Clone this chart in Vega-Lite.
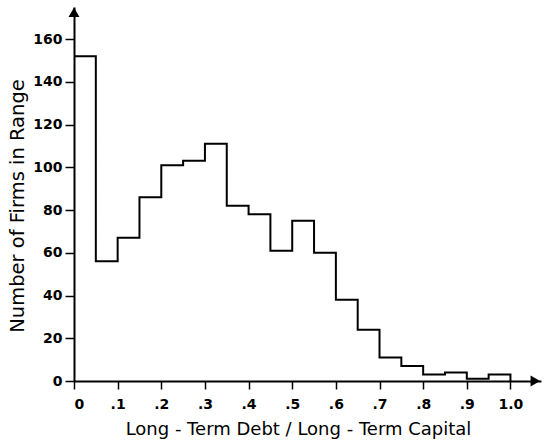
{
  "$schema": "https://vega.github.io/schema/vega-lite/v6.json",
  "autosize": "none",
  "width": 467,
  "height": 374,
  "padding": {"left": 74, "top": 7, "right": 3, "bottom": 60},
  "background": "white",
  "config": {
    "view": {"stroke": null},
    "font": "DejaVu Sans",
    "axis": {
      "grid": false,
      "domainColor": "black",
      "domainWidth": 2,
      "tickColor": "black",
      "tickWidth": 1.5,
      "labelColor": "black",
      "titleColor": "black",
      "labelFont": "DejaVu Sans",
      "titleFont": "DejaVu Sans",
      "labelFontSize": 14,
      "labelFontWeight": "bold",
      "titleFontSize": 17,
      "titleFontWeight": "normal"
    }
  },
  "datasets": {
    "bins": [
      {"ratio": 0.00, "firms": 152},
      {"ratio": 0.05, "firms": 56},
      {"ratio": 0.10, "firms": 67},
      {"ratio": 0.15, "firms": 86},
      {"ratio": 0.20, "firms": 101},
      {"ratio": 0.25, "firms": 103},
      {"ratio": 0.30, "firms": 111},
      {"ratio": 0.35, "firms": 82},
      {"ratio": 0.40, "firms": 78},
      {"ratio": 0.45, "firms": 61},
      {"ratio": 0.50, "firms": 75},
      {"ratio": 0.55, "firms": 60},
      {"ratio": 0.60, "firms": 38},
      {"ratio": 0.65, "firms": 24},
      {"ratio": 0.70, "firms": 11},
      {"ratio": 0.75, "firms": 7},
      {"ratio": 0.80, "firms": 3},
      {"ratio": 0.85, "firms": 4},
      {"ratio": 0.90, "firms": 1},
      {"ratio": 0.95, "firms": 3},
      {"ratio": 1.00, "firms": 0}
    ],
    "arrows": [
      {"ratio": 1.057, "firms": 0, "shape": "triangle-right"},
      {"ratio": 0, "firms": 172.5, "shape": "triangle-up"}
    ]
  },
  "layer": [
    {
      "data": {"name": "bins"},
      "mark": {"type": "line", "interpolate": "step-after", "color": "black", "strokeWidth": 2},
      "encoding": {
        "x": {
          "field": "ratio",
          "type": "quantitative",
          "scale": {"domain": [0, 1.07], "nice": false, "zero": true},
          "axis": {
            "title": "Long - Term Debt / Long - Term Capital",
            "titleFontSize": 18,
            "titlePadding": 9,
            "titleX": 224,
            "values": [0, 0.1, 0.2, 0.3, 0.4, 0.5, 0.6, 0.7, 0.8, 0.9, 1.0],
            "labelExpr": "datum.value == 0 ? '0' : datum.value > 0.99 ? '1.0' : '.' + round(datum.value * 10)",
            "tickSize": 8,
            "labelPadding": 8
          }
        },
        "y": {
          "field": "firms",
          "type": "quantitative",
          "scale": {"domain": [0, 175], "nice": false},
          "axis": {
            "title": "Number of Firms in Range",
            "titleFontSize": 19.5,
            "titleX": -56.5,
            "titleY": 198.5,
            "titleAngle": -90,
            "titleAlign": "center",
            "titleBaseline": "middle",
            "values": [0, 20, 40, 60, 80, 100, 120, 140, 160],
            "tickSize": 9,
            "labelPadding": 3
          }
        }
      }
    },
    {
      "data": {"name": "arrows"},
      "mark": {"type": "point", "filled": true, "color": "black", "opacity": 1, "size": 120},
      "encoding": {
        "x": {"field": "ratio", "type": "quantitative"},
        "y": {"field": "firms", "type": "quantitative"},
        "shape": {"field": "shape", "type": "nominal", "scale": null, "legend": null}
      }
    }
  ]
}
